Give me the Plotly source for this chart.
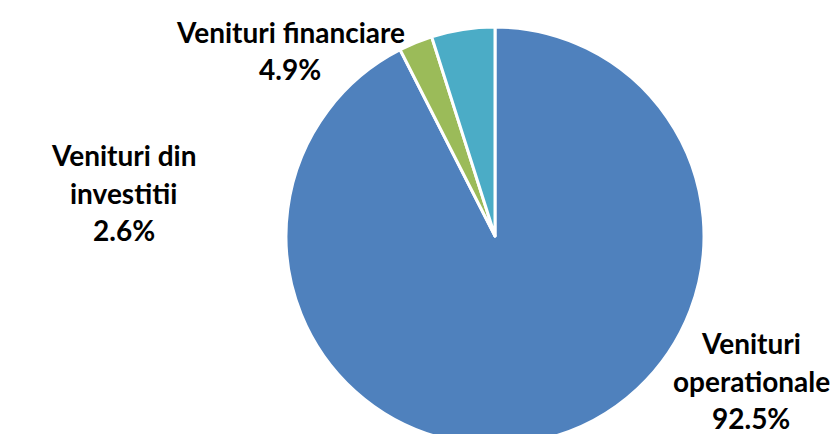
import plotly.graph_objects as go

labels = ["Venituri operationale", "Venituri din investitii", "Venituri financiare"]
values = [92.5, 2.6, 4.9]
colors = ["#4F81BD", "#9BBB59", "#4BACC6"]
# label text lines (as drawn in the reference)
label_lines = [
    ["Venituri", "operationale"],
    ["Venituri din", "investitii"],
    ["Venituri financiare"],
]

W, H = 838, 460  # figure slightly taller than window; bottom of pie is cut off like the reference
cx, cy, r = 495, 236, 209

fig = go.Figure(go.Pie(
    labels=labels,
    values=values,
    sort=False,
    direction="clockwise",
    rotation=0,
    marker=dict(colors=colors, line=dict(color="white", width=3)),
    textinfo="none",
    hoverinfo="label+percent",
    showlegend=False,
    domain=dict(x=[(cx - r) / W, (cx + r) / W], y=[(H - cy - r) / H, (H - cy + r) / H]),
))

# label anchor positions (center x, first line y) in pixels
label_pos = [(751, 343), (124, 155), (290, 32)]
line_h = 37.5
font = dict(family="Lato", size=28, color="black")
for lines, val, (x, y0) in zip(label_lines, values, label_pos):
    texts = lines + [f"{val:.1f}%"]
    for i, t in enumerate(texts):
        fig.add_annotation(
            x=x / W, y=(H - (y0 + i * line_h)) / H, xref="paper", yref="paper",
            text=f"<b>{t}</b>", showarrow=False, font=font,
            xanchor="center", yanchor="middle",
        )

fig.update_layout(
    width=W, height=H,
    margin=dict(l=0, r=0, t=0, b=0),
    paper_bgcolor="white", plot_bgcolor="white",
)

fig.write_html(
    "out.html",
    config={"displayModeBar": False},
    post_script="document.body.style.overflow='hidden';document.documentElement.style.overflow='hidden';document.body.style.margin='0';",
)
